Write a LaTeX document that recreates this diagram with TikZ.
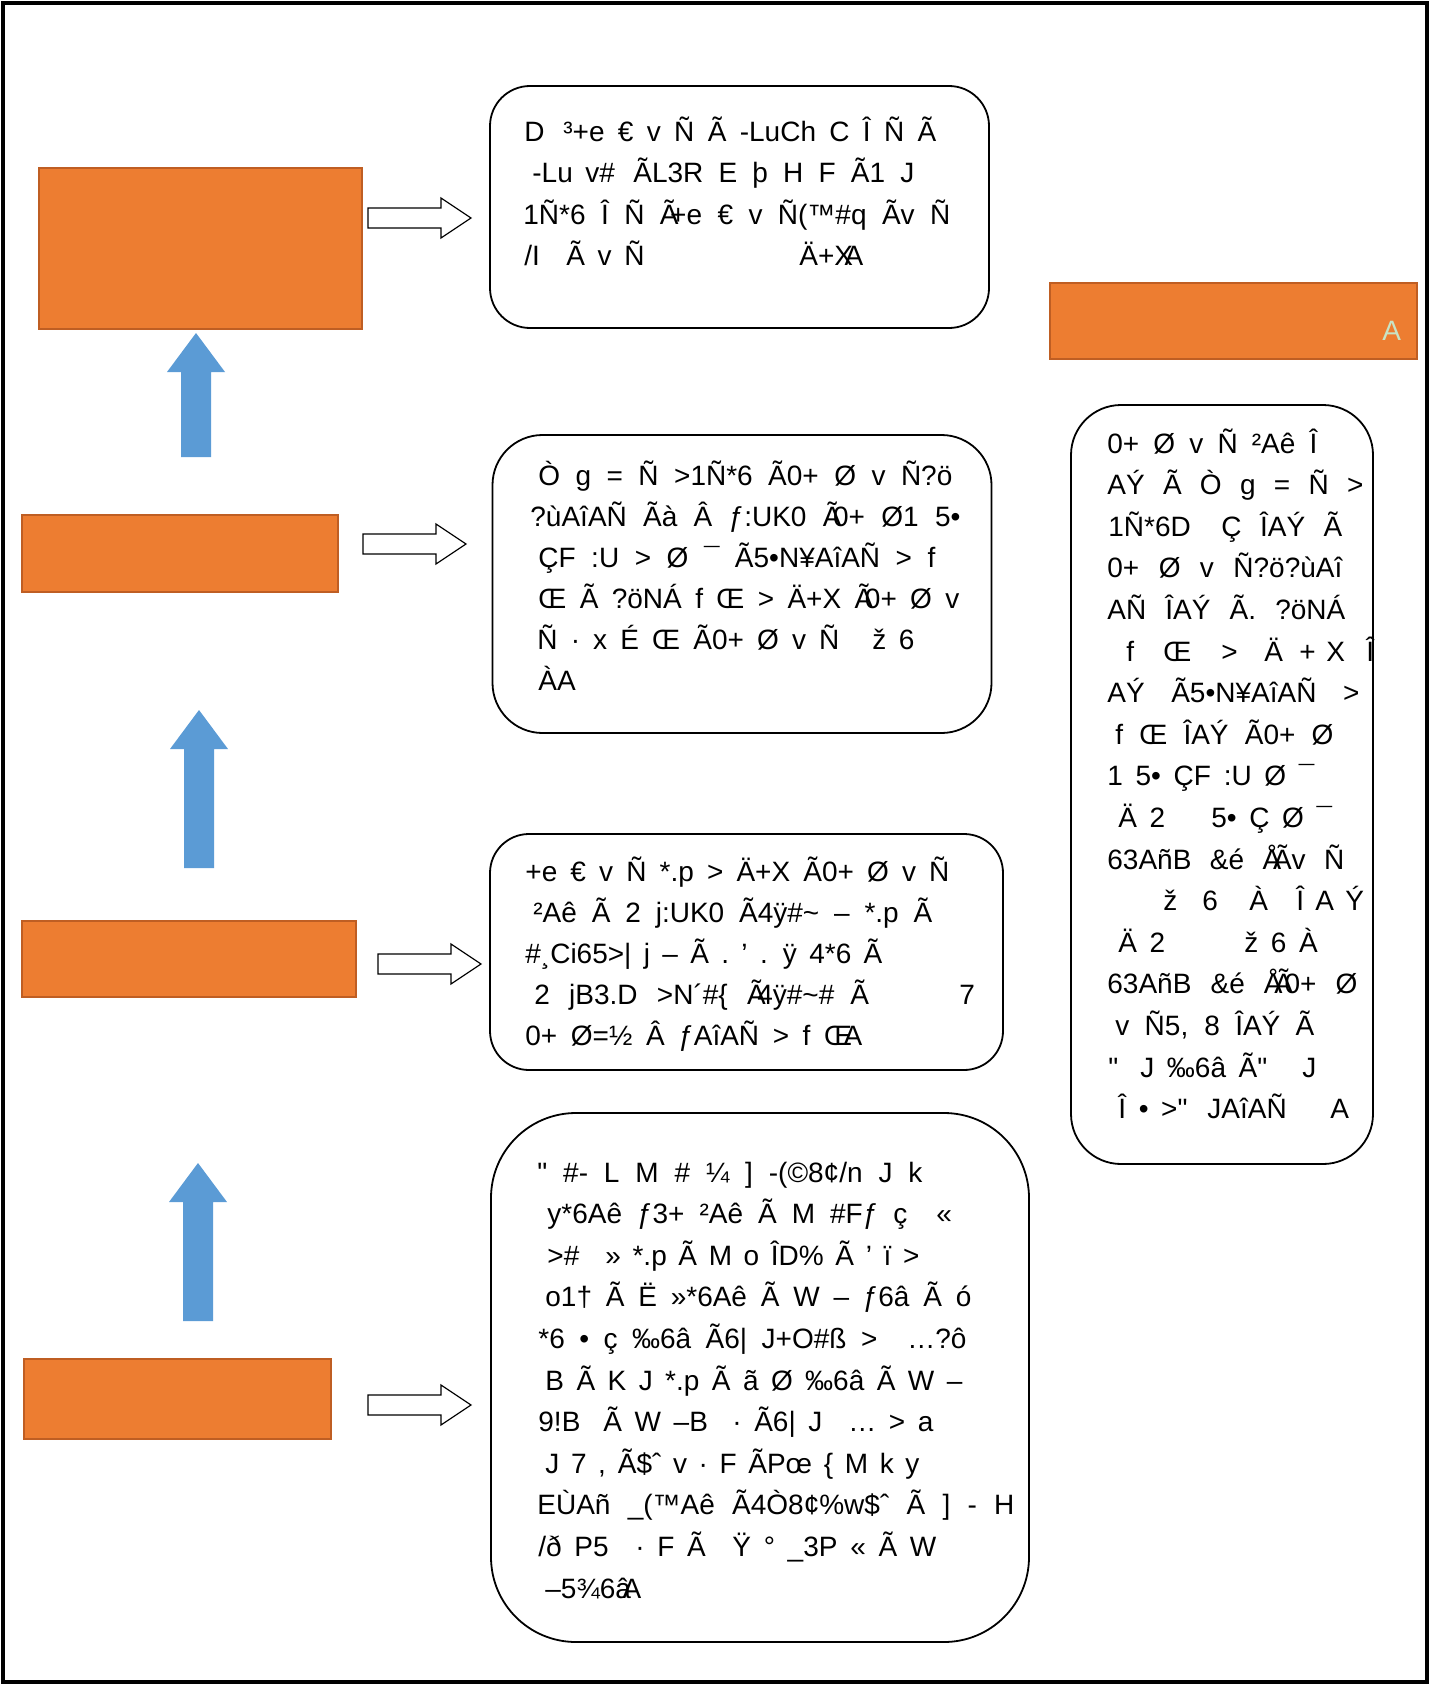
\documentclass[tikz,border=0pt]{standalone}
\usepackage{fontspec}
\setmainfont{Liberation Sans}[Ligatures=TeXOff]
\definecolor{ofill}{HTML}{ED7D31}
\definecolor{oline}{HTML}{BF5E23}
\definecolor{barrow}{HTML}{5B9BD5}
\definecolor{pale}{HTML}{C9E4C5}
\newlength\pxu \setlength\pxu{0.5pt}
\newcommand\putat[2]{\makebox[0pt][l]{\hspace*{#1\pxu}#2}}
\newcommand\fitln[2]{\makebox[#1\pxu][s]{#2}}
\newcommand\ovl[1]{#1\kern-0.3em}
\newcommand\ls{\hspace*{8\pxu}}
\tikzset{
  obox/.style={draw=oline, fill=ofill, line width=0.75pt, inner sep=0pt},
  tbox/.style={draw, line width=0.9pt, inner sep=0pt},
  txt/.style={anchor=base west, inner sep=0pt, font={\fontsize{14}{17}\selectfont\spaceskip=0.45em plus 1.5em minus 0.25em\relax}},
  warrow/.pic={\draw[fill=white, line width=0.6pt] (0,-10) -- (73,-10) -- (73,-20) -- (103,0) -- (73,20) -- (73,10) -- (0,10) -- cycle;},
  uarrow/.pic={\fill[barrow] (0,0) -- (29,39) -- (15,39) -- (15,#1) -- (-15,#1) -- (-15,39) -- (-29,39) -- cycle;}
}
\begin{document}
\begin{tikzpicture}[x=0.5pt, y=-0.5pt]
	\useasboundingbox (0,0) rectangle (1434,1686);
	\draw[line width=1.75pt] (3,3) rectangle (1427,1682);
	\node[obox, minimum width=323*\pxu, minimum height=161*\pxu] (o1) at (200.5,248.5) {};
	\node[obox, minimum width=316*\pxu, minimum height=77*\pxu] (o2) at (180,553.5) {};
	\node[obox, minimum width=334*\pxu, minimum height=76*\pxu] (o3) at (189,959) {};
	\node[obox, minimum width=307*\pxu, minimum height=80*\pxu] (o4) at (177.5,1399) {};
	\node[obox, minimum width=367*\pxu, minimum height=76*\pxu] (oR) at (1233.5,321) {};
	\node[txt, text=pale] (oRA) at (1382,340) {A};
	\pic (w1) at (368,218) {warrow};
	\pic (w2) at (363,544) {warrow};
	\pic (w3) at (378,964) {warrow};
	\pic (w4) at (368,1405) {warrow};
	\pic (u1) at (196,333) {uarrow=124};
	\pic (u2) at (199,710) {uarrow=158};
	\pic (u3) at (198,1163) {uarrow=158};
	\node[tbox, minimum width=499*\pxu, minimum height=242*\pxu, rounded corners=40*\pxu] (b1) at (739.5,207) {};
	\node[tbox, minimum width=499*\pxu, minimum height=298*\pxu, rounded corners=50*\pxu] (b2) at (742,584) {};
	\node[tbox, minimum width=513*\pxu, minimum height=236*\pxu, rounded corners=39*\pxu] (b3) at (746.5,952) {};
	\node[tbox, minimum width=538*\pxu, minimum height=529*\pxu, rounded corners=85*\pxu] (b4) at (760,1377.5) {};
	\node[tbox, minimum width=302*\pxu, minimum height=759*\pxu, rounded corners=50*\pxu] (b5) at (1222,784.5) {};
	\foreach \t [count=\i from 0] in {
		{\putat{0}{D}\putat{39}{\fitln{373}{³+e € v Ñ Ã -LuCh C Î Ñ Ã}}},
		{\putat{8}{-Lu v\#}\putat{109}{\fitln{281}{ÃL3R E þ H F Ã1 J}}},
		{\fitln{427}{1Ñ*6 Î Ñ \ovl{Ã}+e € v Ñ(™\#q Ãv Ñ}},
		{\putat{0}{/I}\putat{42}{Ã v Ñ}\putat{275}{Ä+\ovl{X}A}}}
		\node[txt] (b1l\i) at (523, {141+41.5*\i}) {\t};
	\foreach \t [count=\i from 0] in {
		{\fitln{422}{\ls Ò g = Ñ >1Ñ*6 Ã0+ Ø v Ñ?ö}},
		{\fitln{430}{?ùAîAÑ Ãà Â ƒ:UK0 \ovl{Ã}0+ Ø1 5•}},
		{\fitln{405}{\ls ÇF :U > Ø ¯ Ã5•N¥AîAÑ > f}},
		{\fitln{429}{\ls Œ Ã ?öNÁ f Œ > Ä+X \ovl{Ã}0+ Ø v}},
		{\putat{6}{\fitln{302}{Ñ · x É Œ Ã0+ Ø v Ñ}}\putat{341}{ž 6}},
		{\ls ÀA}}
		\node[txt] (b2l\i) at (530, {485+41*\i}) {\t};
	\foreach \t [count=\i from 0] in {
		{\fitln{424}{+e € v Ñ *.p > Ä+X Ã0+ Ø v Ñ}},
		{\fitln{407}{\ls ²Aê Ã 2 j:UK0 Ã4ÿ\#\textasciitilde{} – *.p Ã}},
		{\fitln{357}{\#¸Ci65>| j – Ã . ’ . ÿ 4*6 Ã}},
		{\putat{8}{\fitln{300}{2 jB3.D >N´\#\{ \ovl{Ã}4ÿ\#\textasciitilde\#}}\putat{324}{Ã}\putat{433}{7}},
		{\fitln{337}{0+ Ø=½ Â ƒAîAÑ > f \ovl{Œ}A}}}
		\node[txt] (b3l\i) at (525, {881+41*\i}) {\t};
	\foreach \t [count=\i from 0] in {
		{\fitln{385}{" \#- L M \# ¼ ] -(©8¢/n J k}},
		{\putat{9}{\fitln{360}{y*6Aê ƒ3+ ²Aê Ã M \#Fƒ ç}}\putat{398}{«}},
		{\putat{9}{>\#}\putat{67}{\fitln{314}{» *.p Ã M o ÎD\% Ã ’ ï >}}},
		{\fitln{434}{\ls o1† Ã Ë »*6Aê Ã W – ƒ6â Ã ó}},
		{\putat{0}{\fitln{339}{*6 • ç ‰6â Ã6| J+O\#ß >}}\putat{369}{…?ô}},
		{\fitln{425}{\ls B Ã K J *.p Ã ã Ø ‰6â Ã W –}},
		{\putat{0}{9!B}\putat{65}{Ã W –B}\putat{194}{· Ã6| J}\putat{310}{… > a}},
		{\fitln{382}{\ls J 7 , Ã\$ˆ v · F ÃPœ \{ M k y}},
		{\fitln{477}{EÙAñ \_(™Aê Ã4Ò8¢\%w\$ˆ Ã ] - H}},
		{\putat{0}{/ð P5}\putat{97}{· F Ã}\putat{194}{\fitln{204}{Ÿ ° \_3P « Ã W}}},
		{\ls –5¾6\ovl{â}A}}
		\node[txt] (b4l\i) at (537, {1182+41.6*\i}) {\t};
	\foreach \t [count=\i from 0] in {
		{\fitln{210}{0+ Ø v Ñ ²Aê Î}},
		{\fitln{256}{AÝ Ã Ò g = Ñ >}},
		{\putat{0}{1Ñ*6D}\putat{113}{\fitln{121}{Ç ÎAÝ Ã}}},
		{\fitln{235}{0+ Ø v Ñ?ö?ùAî}},
		{\fitln{238}{AÑ ÎAÝ Ã. ?öNÁ}},
		{\putat{18}{f}\putat{55}{Œ}\putat{113}{>}\putat{156}{Ä}\putat{191}{+}\putat{218}{X}\putat{258}{Î}},
		{\fitln{252}{AÝ Ã5•N¥AîAÑ >}},
		{\fitln{226}{\ls f Œ ÎAÝ Ã0+ Ø}},
		{\fitln{207}{1 5• ÇF :U Ø ¯}},
		{\putat{10}{Ä 2}\putat{103}{5• Ç Ø ¯}},
		{\fitln{237}{63AñB \&é \ovl{Å}Ãv Ñ}},
		{\putat{55}{ž}\putat{94}{6}\putat{141}{À}\putat{188}{Î}\putat{207}{A}\putat{237}{Ý}},
		{\putat{10}{Ä 2}\putat{136}{ž 6 À}},
		{\fitln{250}{63AñB \&é \ovl{Å}\ovl{Ã}0+ Ø}},
		{\fitln{207}{\ls v Ñ5, 8 ÎAÝ Ã}},
		{\putat{0}{"}\putat{32}{J ‰6â Ã"}\putat{194}{J}},
		{\putat{10}{Î • >"}\putat{99}{JAîAÑ}\putat{222}{A}}}
		\node[txt] (b5l\i) at (1107, {453+41.6*\i}) {\t};
\end{tikzpicture}
\end{document}
